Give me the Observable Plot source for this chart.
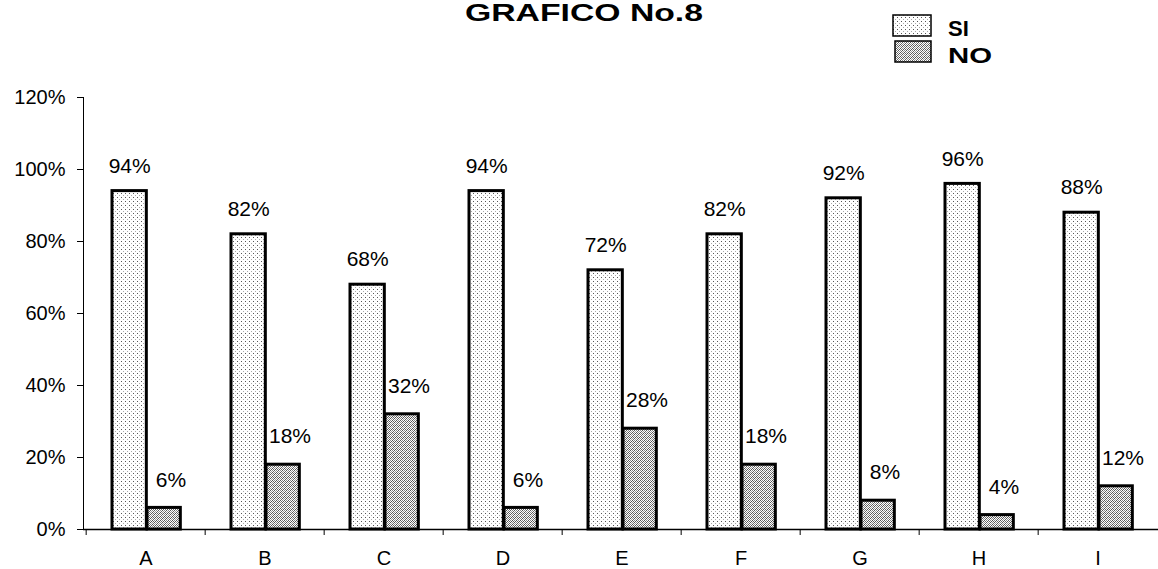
<!DOCTYPE html>
<html>
<head>
<meta charset="utf-8">
<script src="https://cdn.jsdelivr.net/npm/d3@7"></script>
<script src="https://cdn.jsdelivr.net/npm/@observablehq/plot@0.6"></script>
<style>
  body { margin: 0; background: white; }
  #wrap { position: relative; width: 1158px; height: 569px; overflow: hidden; font-family: "Liberation Sans", Arial, sans-serif; }
  #header { position: absolute; left: 0; top: 0; pointer-events: none; }
</style>
</head>
<body>
<svg width="0" height="0" style="position:absolute">
  <defs>
    <pattern id="patSI" width="4" height="4" patternUnits="userSpaceOnUse">
      <rect width="4" height="4" fill="white"/>
      <rect x="1" y="1" width="1" height="1" fill="#555"/>
      <rect x="3" y="3" width="1" height="1" fill="#aaa"/>
    </pattern>
    <pattern id="patNO" width="4" height="4" patternUnits="userSpaceOnUse">
      <rect width="4" height="4" fill="white"/>
      <rect x="0" y="0" width="1" height="1" fill="#555"/>
      <rect x="2" y="0" width="1" height="1" fill="#888"/>
      <rect x="1" y="1" width="1" height="1" fill="#666"/>
      <rect x="3" y="1" width="1" height="1" fill="#555"/>
      <rect x="0" y="2" width="1" height="1" fill="#888"/>
      <rect x="2" y="2" width="1" height="1" fill="#555"/>
      <rect x="1" y="3" width="1" height="1" fill="#666"/>
      <rect x="3" y="3" width="1" height="1" fill="#999"/>
    </pattern>
  </defs>
</svg>
<div id="wrap">
  <div id="chart"></div>
  <svg id="header" width="1158" height="90">
    <text x="584" y="21" text-anchor="middle" font-family="Liberation Sans, Arial, sans-serif" font-weight="bold" font-size="24" textLength="238" lengthAdjust="spacingAndGlyphs">GRAFICO No.8</text>
    <rect x="893" y="15" width="38" height="21" fill="url(#patSI)" stroke="black" stroke-width="1.5"/>
    <rect x="895" y="41" width="36" height="21" fill="url(#patNO)" stroke="black" stroke-width="1.5"/>
    <text x="948" y="36" font-family="Liberation Sans, Arial, sans-serif" font-weight="bold" font-size="22">SI</text>
    <text x="948" y="63" font-family="Liberation Sans, Arial, sans-serif" font-weight="bold" font-size="22" textLength="44" lengthAdjust="spacingAndGlyphs">NO</text>
  </svg>
</div>
<script>
const categories = ["A", "B", "C", "D", "E", "F", "G", "H", "I"];
const siValues = [0.94, 0.82, 0.68, 0.94, 0.72, 0.82, 0.92, 0.96, 0.88];
const noValues = [0.06, 0.18, 0.32, 0.06, 0.28, 0.18, 0.08, 0.04, 0.12];
const yTicks = [0, 0.2, 0.4, 0.6, 0.8, 1.0, 1.2];

const data = categories.map((c, i) => ({cat: c, si: siValues[i], no: noValues[i]}));
const pct = d3.format(".0%");

const chart = Plot.plot({
  width: 1158,
  height: 569,
  marginTop: 97,
  marginBottom: 40,
  marginLeft: 83,
  marginRight: 0,
  style: {fontFamily: "'Liberation Sans', Arial, sans-serif", fontSize: "20px", color: "black", background: "white", overflow: "visible"},
  x: {domain: categories, range: [83, 1160], padding: 0},
  y: {domain: [0, 1.2], ticks: yTicks, tickFormat: pct, tickSize: 6, tickPadding: 12, line: true, label: null},
  marks: [
    Plot.barY(data, {x: "cat", y: "si", fill: "url(#patSI)", stroke: "black", strokeWidth: 3, insetLeft: 26, insetRight: 58.67}),
    Plot.barY(data, {x: "cat", y: "no", fill: "url(#patNO)", stroke: "black", strokeWidth: 3, insetLeft: 61, insetRight: 24.67}),
    Plot.ruleY([0], {stroke: "black", strokeWidth: 1.5}),
    Plot.axisX({tickSize: 0, tickPadding: 21, label: null, fontSize: 20}),
    Plot.axisX({tickSize: 6, tickFormat: () => "", dx: -59.83, label: null}),
    Plot.text(data, {x: "cat", y: "si", text: d => pct(d.si), dx: -16.3, dy: -25, fontSize: 21}),
    Plot.text(data, {x: "cat", y: "no", text: d => pct(d.no), dx: 25, dy: -28, fontSize: 21})
  ]
});
document.getElementById("chart").appendChild(chart);
</script>
</body>
</html>
